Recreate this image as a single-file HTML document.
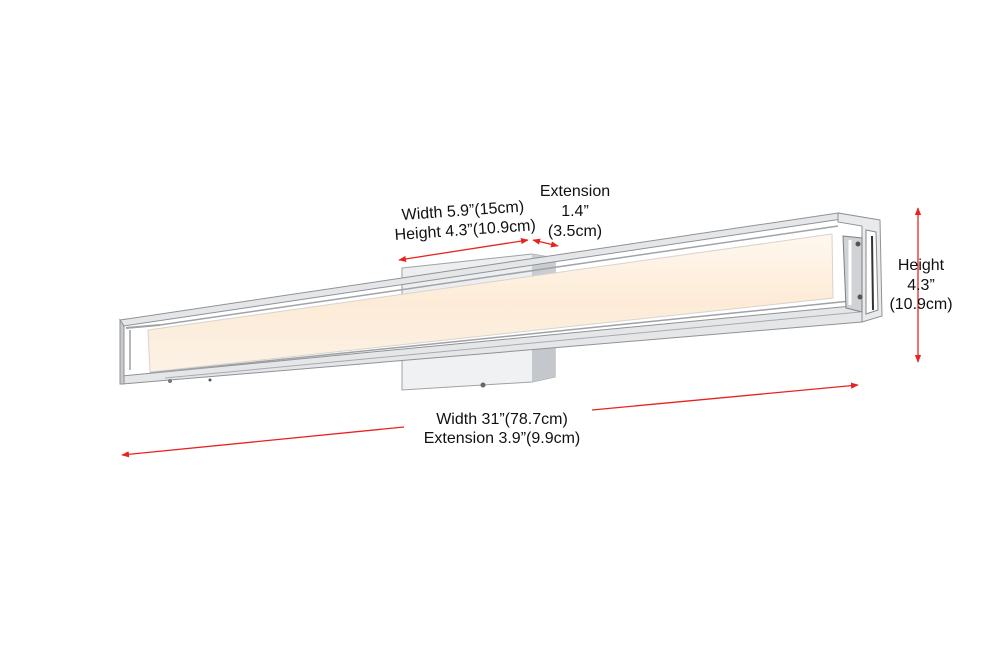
<!DOCTYPE html>
<html><head><meta charset="utf-8"><style>
html,body{margin:0;padding:0;background:#fff;width:1000px;height:667px;overflow:hidden}
svg{display:block}
text{font-family:"Liberation Sans",sans-serif;font-size:16px;fill:#111}
</style></head><body>
<svg width="1000" height="667" viewBox="0 0 1000 667" xmlns="http://www.w3.org/2000/svg">
<defs>
<marker id="a" viewBox="0 0 10 10" refX="9" refY="5" markerWidth="6" markerHeight="6" orient="auto-start-reverse"><path d="M0,1 L10,5 L0,9 z" fill="#e8231e"/></marker>
<linearGradient id="lp" x1="0" y1="0" x2="0" y2="1"><stop offset="0" stop-color="#fff8ef"/><stop offset="0.5" stop-color="#fdebd7"/><stop offset="1" stop-color="#fcf2e6"/></linearGradient>
</defs>
<polygon points="402,268 532,254 555,258 555,290 402,300" fill="#eceef0" stroke="#9ea2a6"/>
<polygon points="532,254 555,258 555,290 532,290" fill="#c9ccd0"/>
<polygon points="402,352 532,340 555,342 555,377 532,382 402,390" fill="#f0f1f3" stroke="#9ea2a6"/>
<polygon points="532,340 555,342 555,377 532,382" fill="#c4c7cb"/>
<line x1="485" y1="346" x2="532" y2="343" stroke="#888" stroke-width="3"/>
<circle cx="483" cy="385" r="2.5" fill="#666"/>
<polygon points="120,320 838,213 880,220 880,226 842,219 124,326" fill="#e4e6e8" stroke="#8f9397" stroke-width="1"/>
<line x1="160" y1="325" x2="838" y2="226" stroke="#a0a4a8" stroke-width="1.5"/>
<polygon points="148,330 832,234 833,298 150,372" fill="url(#lp)" stroke="#d8d3cc" stroke-width="1"/>
<polygon points="122,376 862,305 880,310 880,316 862,322 122,384" fill="#e4e6e8" stroke="#8f9397"/>
<line x1="150" y1="373" x2="860" y2="300" stroke="#9ea2a6" stroke-width="1.5"/>
<line x1="165" y1="378" x2="860" y2="312" stroke="#a8abaf" stroke-width="1"/>
<polygon points="120,320 124,326 124,384 120,384" fill="#c8cacd" stroke="#8f9397"/>
<line x1="126" y1="328" x2="160" y2="325" stroke="#9ea2a6" stroke-width="2"/>
<line x1="130" y1="330" x2="130" y2="370" stroke="#b5b8bb" stroke-width="2"/>
<circle cx="170" cy="381" r="2" fill="#777"/><circle cx="210" cy="380" r="1.5" fill="#555"/>
<polygon points="838,213 880,220 882,316 862,322 862,226 838,222" fill="#e9eaec" stroke="#8f9397"/>
<polygon points="866,230 876,232 878,310 866,314" fill="#fff" stroke="#888"/>
<polygon points="843,236 862,238 862,312 846,308" fill="#d0d2d5" stroke="#7d8185"/>
<line x1="850" y1="240" x2="850" y2="305" stroke="#fff" stroke-width="3"/>
<line x1="872" y1="236" x2="873" y2="310" stroke="#333" stroke-width="2"/>
<circle cx="858" cy="244" r="2.5" fill="#555"/><circle cx="860" cy="297" r="2.5" fill="#555"/>
<g stroke="#e8231e" stroke-width="1.3" fill="none">
<line x1="399" y1="260" x2="528" y2="240" marker-start="url(#a)" marker-end="url(#a)"/>
<line x1="533" y1="240" x2="558" y2="246" marker-start="url(#a)" marker-end="url(#a)"/>
<line x1="918" y1="208" x2="918" y2="362" marker-start="url(#a)" marker-end="url(#a)"/>
<line x1="404" y1="427" x2="122" y2="455" marker-end="url(#a)"/>
<line x1="592" y1="410" x2="858" y2="385" marker-end="url(#a)"/>
</g>
<text transform="translate(402,220) rotate(-4)">Width 5.9”(15cm)</text>
<text transform="translate(395,240) rotate(-4)">Height 4.3”(10.9cm)</text>
<text x="575" y="196" text-anchor="middle">Extension</text>
<text x="575" y="216" text-anchor="middle">1.4”</text>
<text x="575" y="236" text-anchor="middle">(3.5cm)</text>
<text x="921" y="270" text-anchor="middle">Height</text>
<text x="921" y="290" text-anchor="middle">4.3”</text>
<text x="921" y="309" text-anchor="middle">(10.9cm)</text>
<text x="502" y="424" text-anchor="middle">Width 31”(78.7cm)</text>
<text x="502" y="443" text-anchor="middle">Extension 3.9”(9.9cm)</text>
</svg>
</body></html>
